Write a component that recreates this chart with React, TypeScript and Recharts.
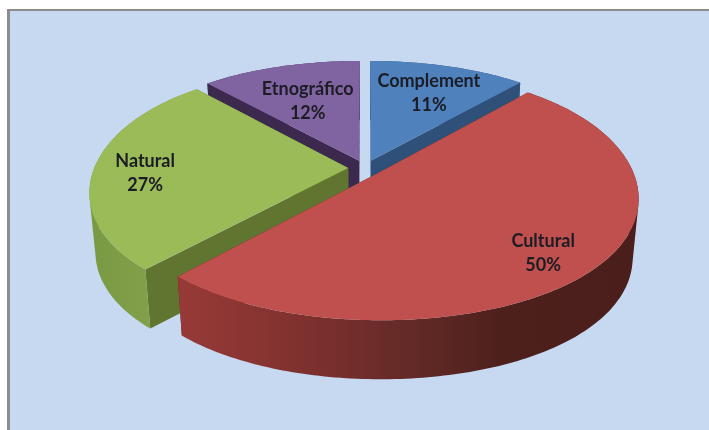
import { Pie, PieChart } from "recharts";

const categories = ["Complement", "Cultural", "Natural", "Etnográfico"];
const shares = [11.4, 50.3, 26.7, 11.6];
// back to front, the later slices cover the walls of the earlier ones
const drawOrder = ["Etnográfico", "Complement", "Natural", "Cultural"];

const topColors = { Complement: "#4F81BD", Cultural: "#C0504D", Natural: "#9BBB59", "Etnográfico": "#8064A2" };
const cutColors = { Complement: "#2E5079", Cultural: "#5A2220", Natural: "#5F7530", "Etnográfico": "#3B2A4E" };
const wallStops = {
  Complement: [["0%", "#2E5079"], ["100%", "#2E5079"]],
  Cultural: [["0%", "#983A37"], ["30%", "#7C302E"], ["50%", "#642A27"], ["70%", "#4E201C"], ["100%", "#4A1E1B"]],
  Natural: [["0%", "#7A9943"], ["100%", "#87A64E"]],
  "Etnográfico": [["0%", "#3B2A4E"], ["100%", "#3B2A4E"]],
};
const labelPlacement = {
  Complement: { along: 0.7, dx: 2, dy: 1 },
  Cultural: { along: 0.75, dx: 5, dy: 14 },
  Natural: { along: 0.8, dx: 0, dy: 5 },
  "Etnográfico": { along: 0.6, dx: -2, dy: 0 },
};

const data = categories.map((name, i) => ({ name, value: shares[i] }));

const CX = 365;
const CY = 168;
const RADIUS = 254;
const SQUASH = 0.47;
const PERSPECTIVE = 0.174;
const EXPLODE = 0.066;
const DEPTH = 59;
const DEPTH_SHRINK = 0.978;

type Pt = { x: number; y: number };

// disc coordinates (u right, v away from viewer) to screen
function project(cx: number, cy: number, r: number, u: number, v: number): Pt {
  const s = 1 / (1 + PERSPECTIVE * v);
  return {
    x: cx + u * r * s * (1 + 0.04 * v * v),
    y: cy - v * r * SQUASH * s,
  };
}

function drop(cx: number, p: Pt): Pt {
  return { x: cx + (p.x - cx) * DEPTH_SHRINK, y: p.y + DEPTH };
}

function toPath(points: Pt[]) {
  return "M" + points.map((p) => `${p.x.toFixed(1)} ${p.y.toFixed(1)}`).join("L") + "Z";
}

// one quad per arc step, all wound the same way so the fold at the silhouette stays filled
function wallPath(cx: number, arc: Pt[]) {
  let d = "";
  for (let i = 0; i < arc.length - 1; i++) {
    const quad = [arc[i], arc[i + 1], drop(cx, arc[i + 1]), drop(cx, arc[i])];
    let area = 0;
    quad.forEach((p, j) => {
      const q = quad[(j + 1) % 4];
      area += p.x * q.y - q.x * p.y;
    });
    d += toPath(area < 0 ? quad.reverse() : quad);
  }
  return d;
}

const Slice3D = (props: any) => {
  const { cx, cy, outerRadius, startAngle, endAngle, name, payload } = props;
  const label = name ?? payload?.name;
  const rad = Math.PI / 180;
  const mid = ((startAngle + endAngle) / 2) * rad;
  const ox = Math.cos(mid) * EXPLODE;
  const oy = Math.sin(mid) * EXPLODE;

  const arc: Pt[] = [];
  const steps = Math.ceil(Math.abs(endAngle - startAngle));
  for (let i = 0; i <= steps; i++) {
    const a = (startAngle + ((endAngle - startAngle) * i) / steps) * rad;
    arc.push(project(cx, cy, outerRadius, ox + Math.cos(a), oy + Math.sin(a)));
  }
  const tip = project(cx, cy, outerRadius, ox, oy);
  const tipLow = drop(cx, tip);
  const first = arc[0];
  const last = arc[arc.length - 1];
  const gradId = "wall-" + categories.indexOf(label);
  const place = labelPlacement[label];
  const spot = project(
    cx,
    cy,
    outerRadius,
    ox + Math.cos(mid) * place.along,
    oy + Math.sin(mid) * place.along
  );
  const pct = Math.round(payload?.value ?? props.value);
  const labelX = spot.x + place.dx;

  return (
    <g>
      <defs>
        <linearGradient id={gradId} x1="0" y1="0" x2="1" y2="0">
          {wallStops[label].map(([offset, color]) => (
            <stop key={offset} offset={offset} stopColor={color} />
          ))}
        </linearGradient>
      </defs>
      <path d={toPath([tip, first, drop(cx, first), tipLow])} fill={cutColors[label]} />
      <path d={toPath([tip, last, drop(cx, last), tipLow])} fill={cutColors[label]} />
      <path d={wallPath(cx, arc)} fill={`url(#${gradId})`} />
      <path d={toPath([tip, ...arc])} fill={topColors[label]} />
      <text
        x={labelX}
        y={spot.y + place.dy}
        textAnchor="middle"
        fontFamily="Lato, sans-serif"
        fontWeight={700}
        fontSize={18}
        fill="#1c1c24"
      >
        <tspan x={labelX} dy={-6}>{label}</tspan>
        <tspan x={labelX} dy={24}>{pct}%</tspan>
      </text>
    </g>
  );
};

const App = () => {
  return (
    <div style={{ position: "absolute", left: 0, top: 0, width: 709, height: 430, background: "#fff", overflow: "hidden" }}>
      <div
        style={{
          position: "absolute",
          left: 7,
          top: 9,
          width: 702,
          height: 421,
          boxSizing: "border-box",
          background: "#C6D9F1",
          borderLeft: "3px solid #8C8C8C",
          borderTop: "2px solid #8C8C8C",
        }}
      />
      <div style={{ position: "absolute", left: 0, top: 0, filter: "blur(0.5px)" }}>
        <PieChart width={709} height={430} margin={{ top: 0, right: 0, bottom: 0, left: 0 }}>
          {drawOrder.map((sliceName) => (
            <Pie
              key={sliceName}
              data={data}
              dataKey="value"
              nameKey="name"
              cx={CX}
              cy={CY}
              outerRadius={RADIUS}
              startAngle={90}
              endAngle={-270}
              stroke="none"
              isAnimationActive={false}
              shape={(p: any) => ((p.name ?? p.payload?.name) === sliceName ? <Slice3D {...p} /> : <g />)}
            />
          ))}
        </PieChart>
      </div>
    </div>
  );
};

export default App;
